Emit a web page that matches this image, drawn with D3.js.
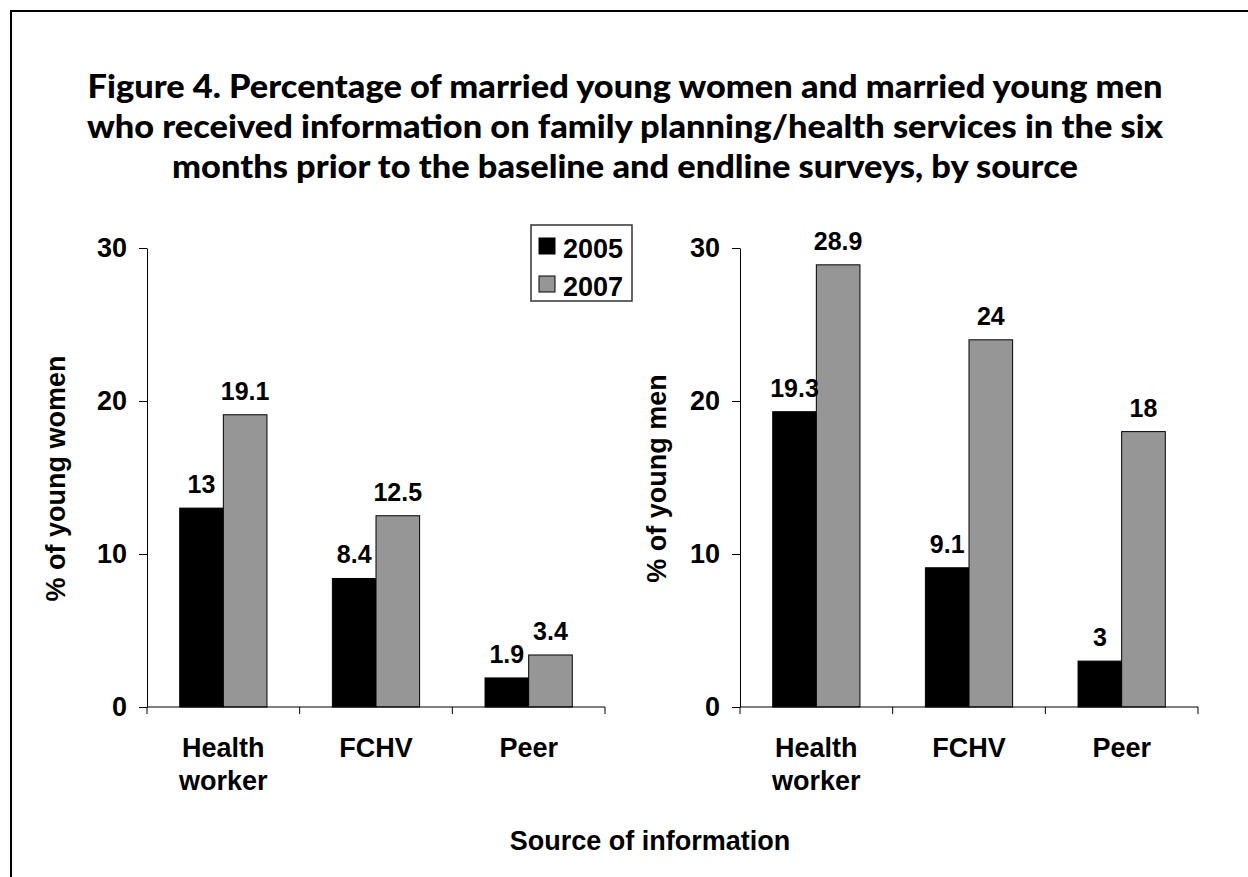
<!DOCTYPE html>
<html>
<head>
<meta charset="utf-8">
<script src="https://cdn.jsdelivr.net/npm/d3@7"></script>
<style>
  body { margin: 0; background: #fff; }
  text { font-family: "Liberation Sans", Arial, sans-serif; font-weight: bold; fill: #000; }
  .title { font-family: Lato, "Open Sans", sans-serif; font-weight: 900; }
</style>
</head>
<body>
<div id="chart"></div>
<script>
// Chart values
const categories = ["Health worker", "FCHV", "Peer"];
const years = ["2005", "2007"];
const women2005 = [13, 8.4, 1.9];
const women2007 = [19.1, 12.5, 3.4];
const men2005 = [19.3, 9.1, 3];
const men2007 = [28.9, 24, 18];
const yTicks = [0, 10, 20, 30];
const titleLines = [
  "Figure 4. Percentage of married young women and married young men",
  "who received information on family planning/health services in the six",
  "months prior to the baseline and endline surveys, by source"
];

const width = 1248, height = 877;
const colors = { "2005": "#000000", "2007": "#969696" };

const svg = d3.select("#chart")
  .append("svg")
  .attr("width", width)
  .attr("height", height);

svg.append("rect")
  .attr("width", width)
  .attr("height", height)
  .attr("fill", "#fff");

// frame (open on the right and bottom, as in the source image)
svg.append("rect")
  .attr("x", 11)
  .attr("y", 11)
  .attr("width", width + 20)
  .attr("height", height + 20)
  .attr("fill", "none")
  .attr("stroke", "#000")
  .attr("stroke-width", 2);

// Title, squeezed to the width of the original
const titleSel = svg.selectAll(".title")
  .data(titleLines)
  .enter()
  .append("text")
  .attr("class", "title")
  .attr("x", 625)
  .attr("y", (d, i) => 98 + i * 40)
  .attr("text-anchor", "middle")
  .style("font-size", "33px")
  .text(d => d);

const w0 = titleSel.nodes()[0].getComputedTextLength();
const k = 1075 / w0;
titleSel.each(function() {
  const w = this.getComputedTextLength();
  d3.select(this)
    .attr("textLength", w * k)
    .attr("lengthAdjust", "spacingAndGlyphs");
});

const y = d3.scaleLinear()
  .domain([0, 30])
  .range([707, 248]);

function drawPanel(left, right, v05, v07, label, labelX) {
  const g = svg.append("g");

  const x0 = d3.scaleBand()
    .domain(categories)
    .range([left, right])
    .paddingInner(0)
    .paddingOuter(0);

  const x1 = d3.scaleBand()
    .domain(years)
    .range([0, x0.bandwidth()])
    .paddingInner(0)
    .paddingOuter(0.75);

  const rows = [];
  categories.forEach((c, i) => {
    rows.push({ cat: c, year: "2005", value: v05[i] });
    rows.push({ cat: c, year: "2007", value: v07[i] });
  });

  // bars
  g.selectAll(".bar")
    .data(rows)
    .enter()
    .append("rect")
    .attr("x", d => x0(d.cat) + x1(d.year))
    .attr("y", d => y(d.value))
    .attr("width", x1.bandwidth())
    .attr("height", d => y(0) - y(d.value))
    .attr("fill", d => colors[d.year])
    .attr("stroke", "#000")
    .attr("stroke-width", 1);

  // value labels
  g.selectAll(".val")
    .data(rows)
    .enter()
    .append("text")
    .attr("x", d => x0(d.cat) + x1(d.year) + x1.bandwidth() / 2)
    .attr("y", d => y(d.value) - 15)
    .attr("text-anchor", "middle")
    .style("font-size", "25px")
    .text(d => d.value);

  // y axis
  const yAxis = g.append("g")
    .attr("transform", `translate(${left},0)`)
    .call(d3.axisLeft(y).tickValues(yTicks).tickSize(8).tickSizeOuter(0).tickPadding(12));
  yAxis.selectAll("text")
    .style("font-size", "27px")
    .style("font-family", "'Liberation Sans', Arial, sans-serif")
    .style("font-weight", "bold")
    .attr("fill", "#000");
  yAxis.selectAll("path, line").attr("stroke", "#000");

  // x axis line with ticks between categories
  g.append("line")
    .attr("x1", left).attr("x2", right)
    .attr("y1", y(0)).attr("y2", y(0))
    .attr("stroke", "#000");

  const bounds = categories.map(c => x0(c)).concat([x0.range()[1]]);
  g.selectAll(".xtick")
    .data(bounds)
    .enter()
    .append("line")
    .attr("x1", d => d).attr("x2", d => d)
    .attr("y1", y(0)).attr("y2", y(0) + 7)
    .attr("stroke", "#000");

  // category labels
  const cl = g.selectAll(".cat")
    .data(categories)
    .enter()
    .append("text")
    .attr("text-anchor", "middle")
    .style("font-size", "27px");
  cl.each(function(c) {
    const words = c === "Health worker" ? ["Health", "worker"] : [c];
    const t = d3.select(this);
    words.forEach((wd, i) => {
      t.append("tspan")
        .attr("x", x0(c) + x0.bandwidth() / 2)
        .attr("y", 757 + i * 33)
        .text(wd);
    });
  });

  // y axis title
  g.append("text")
    .attr("transform", `translate(${labelX},${(y(0) + y(30)) / 2 + 1}) rotate(-90)`)
    .attr("text-anchor", "middle")
    .style("font-size", "27px")
    .text(label);
}

drawPanel(147, 605, women2005, women2007, "% of young women", 65);
drawPanel(740, 1198, men2005, men2007, "% of young men", 666);

// legend
const legend = svg.append("g")
  .attr("transform", "translate(531,225)");

legend.append("rect")
  .attr("width", 101)
  .attr("height", 76)
  .attr("fill", "#fff")
  .attr("stroke", "#333")
  .attr("stroke-width", 1.5);

years.forEach((yr, i) => {
  legend.append("rect")
    .attr("x", 8)
    .attr("y", 13 + i * 38)
    .attr("width", 16)
    .attr("height", 16)
    .attr("fill", colors[yr])
    .attr("stroke", "#000");

  legend.append("text")
    .attr("x", 32)
    .attr("y", 33 + i * 38)
    .style("font-size", "27px")
    .text(yr);
});

// shared x axis title
svg.append("text")
  .attr("x", 650)
  .attr("y", 850)
  .attr("text-anchor", "middle")
  .style("font-size", "27px")
  .text("Source of information");
</script>
</body>
</html>
